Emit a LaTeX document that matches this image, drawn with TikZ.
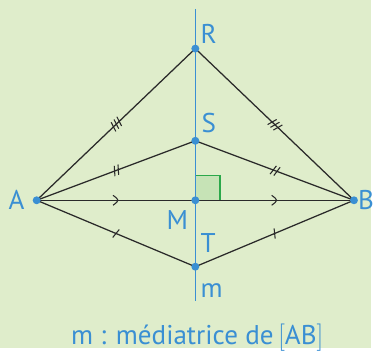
\documentclass[tikz,border=0pt]{standalone}
\usepackage{fontspec}
\setmainfont{PT Sans}
\usetikzlibrary{positioning,decorations.markings}
\definecolor{paper}{HTML}{DFEDCB}
\definecolor{geoblue}{HTML}{3A8FD3}
\definecolor{anglegreen}{HTML}{2BA84A}
\definecolor{anglefill}{HTML}{C6E3B6}
\definecolor{segink}{HTML}{2A2A2A}

\begin{document}
\begin{tikzpicture}[
  x=0.75pt, y=0.75pt,
  seg/.style={segink, line width=0.95pt},
  mline/.style={geoblue, line width=1.1pt},
  lbl/.style={geoblue, inner sep=0pt, font=\fontsize{20.5}{20.5}\selectfont},
  dot/.style={geoblue},
  tickone/.style={postaction={decorate, decoration={markings,
      mark=at position 0.5 with {\draw[seg, line width=0.8pt] (-1.5,-5)--(1.5,5);}}}},
  ticktwo/.style={postaction={decorate, decoration={markings,
      mark=at position 0.5 with {\draw[seg, line width=0.8pt] (-3,-5)--(0,5) (1,-5)--(4,5);}}}},
  tickthree/.style={postaction={decorate, decoration={markings,
      mark=at position 0.5 with {\draw[seg, line width=0.8pt] (-5,-5)--(-2,5) (-1,-5)--(2,5) (3,-5)--(6,5);}}}},
  chevron/.style={postaction={decorate, decoration={markings,
      mark=at position 0.5 with {\draw[seg, line width=0.8pt] (-3,5) .. controls (1,2) .. (2,0) .. controls (1,-2) .. (-3,-5);}}}}
]
  % background fixes the margins
  \fill[paper] (0,0) rectangle (374,351);

  % points
  \coordinate (A) at (37,149);
  \coordinate (B) at (357,149);
  \coordinate (M) at (197,149);
  \coordinate (R) at (197,302);
  \coordinate (S) at (197,209);
  \coordinate (T) at (197,82);
  \coordinate (mtop) at (197,342);
  \coordinate (mbot) at (197,47);

  % right angle at M
  \fill[anglefill] (M) rectangle ++(25,25);
  \draw[anglegreen, line width=1pt] (M) ++(0,25) -- ++(25,0) -- ++(0,-25);

  % perpendicular bisector
  \draw[mline] (mtop) -- (mbot);

  % segments
  \draw[seg, tickthree] (A) -- (R);
  \draw[seg, tickthree] (R) -- (B);
  \draw[seg, ticktwo] (A) -- (S);
  \draw[seg, ticktwo] (S) -- (B);
  \draw[seg, chevron] (A) -- (M);
  \draw[seg, chevron] (M) -- (B);
  \draw[seg, tickone] (A) -- (T);
  \draw[seg, tickone] (T) -- (B);

  \foreach \p in {A,B,M,R,S,T}
    \fill[dot] (\p) circle (4);

  % labels
  \node[lbl, left=9pt of A] (lA) {A};
  \node[lbl, right=3pt of B] (lB) {B};
  \node[lbl, above right=3.75pt and 3.75pt of R] (lR) {R};
  \node[lbl, above right=6pt and 4.5pt of S] (lS) {S};
  \node[lbl, below left=7.3pt and 5.25pt of M] (lM) {M};
  \node[lbl, above right=10.5pt and 3.75pt of T] (lT) {T};
  \node[lbl, above right=3pt and 3.75pt of mbot] (lm) {m};
  \node[lbl, anchor=base] (caption) at (199,4)
    {m : médiatrice de\,\(\Bigl[\)AB\(\Bigr]\)};
\end{tikzpicture}
\end{document}
